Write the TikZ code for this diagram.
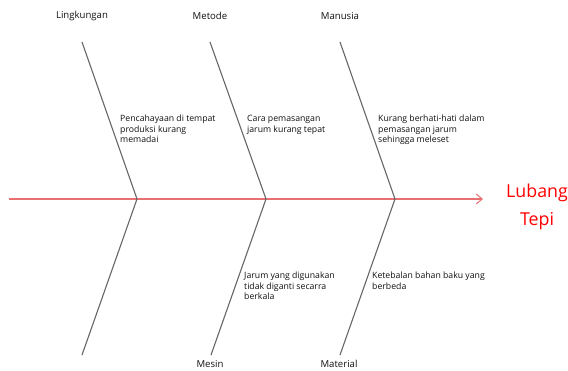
\documentclass[tikz,border=0pt]{standalone}
\usepackage{fontspec}
\setmainfont{Open Sans}
\usetikzlibrary{arrows.meta}
\definecolor{spinecol}{HTML}{E87070}
\definecolor{bonecol}{HTML}{666666}
\definecolor{txtcol}{HTML}{111111}
\tikzset{
  bone/.style={draw=bonecol, line width=1.1pt},
  spine/.style={draw=spinecol, line width=1.4pt, -{Straight Barb[length=6pt,width=10pt,line width=1pt]}},
  catlabel/.style={font=\fontsize{9.6}{11}\selectfont, text=txtcol, inner sep=0pt},
  cause/.style={font=\fontsize{8.7}{10.5}\selectfont, text=txtcol, inner sep=0pt, anchor=north west, align=left},
  effect/.style={font=\fontsize{17.8}{28}\selectfont, text=red, inner sep=0pt, align=center}
}
\begin{document}
\begin{tikzpicture}[x=1pt,y=-1pt]
\useasboundingbox (0,0) rectangle (568,370);
% spine
\coordinate (s0) at (9,199);
\coordinate (s1) at (137,199);
\coordinate (s2) at (266,199);
\coordinate (s3) at (395,199);
\coordinate (tip) at (483,199);
\draw[spine] (s0) -- (tip);
% bone ends
\coordinate (t1) at (82,42);
\coordinate (t2) at (210,42);
\coordinate (t3) at (340,42);
\coordinate (b1) at (82,355);
\coordinate (b2) at (211,355);
\coordinate (b3) at (340,355);
\draw[bone] (t1) -- (s1) -- (b1);
\draw[bone] (t2) -- (s2) -- (b2);
\draw[bone] (t3) -- (s3) -- (b3);
% labels
\node[catlabel] (lingkungan) at (82,16) {Lingkungan};
\node[catlabel] (metode) at (210,16) {Metode};
\node[catlabel] (manusia) at (340,16) {Manusia};
\node[catlabel] (mesin) at (210,364) {Mesin};
\node[catlabel] (material) at (339,364) {Material};
% causes
\node[cause] (c1) at (120,115) {Pencahayaan di tempat\\produksi kurang\\memadai};
\node[cause] (c2) at (247,115) {Cara pemasangan\\jarum kurang tepat};
\node[cause] (c3) at (378,115) {Kurang berhati-hati dalam\\pemasangan jarum\\sehingga meleset};
\node[cause] (c4) at (244,272) {Jarum yang digunakan\\tidak diganti secarra\\berkala};
\node[cause] (c5) at (372,272) {Ketebalan bahan baku yang\\berbeda};
% effect
\node[effect] (effect) at (537,207) {Lubang\\Tepi};
\end{tikzpicture}
\end{document}
